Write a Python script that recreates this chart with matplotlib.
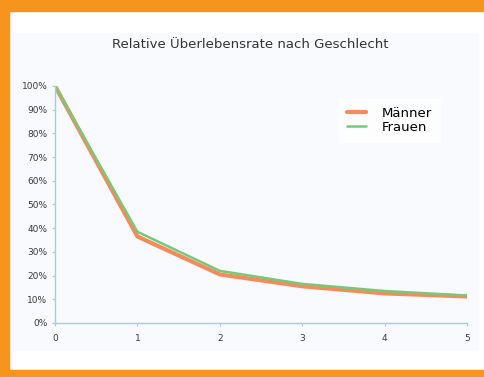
import matplotlib
matplotlib.use("Agg")
import matplotlib.pyplot as plt
from matplotlib.patches import Rectangle
from matplotlib.ticker import PercentFormatter

years = [0, 1, 2, 3, 4, 5]
maenner = [100, 36.5, 20.5, 15.5, 12.5, 11.2]
frauen = [100, 38.5, 22.0, 16.5, 13.5, 11.6]
yticks = list(range(0, 101, 10))

fig = plt.figure(figsize=(4.85, 3.77), dpi=100)
fig.patch.set_facecolor("white")

orange = "#f7941d"
# orange frame
fig.add_artist(Rectangle((0, 1 - 11/377), 1, 11/377, transform=fig.transFigure, color=orange, zorder=0))
fig.add_artist(Rectangle((0, 0), 9/485, 1, transform=fig.transFigure, color=orange, zorder=0))
fig.add_artist(Rectangle((0, 0), 1, 7/377, transform=fig.transFigure, color=orange, zorder=0))
# light panel
fig.add_artist(Rectangle((14/485, 1 - 350/377), (478-14)/485, (350-33)/377,
                         transform=fig.transFigure, color="#f8fafd", zorder=0))

ax = fig.add_axes([55/485, 1 - 323/377, (467-55)/485, (323-86)/377])
ax.set_facecolor("none")
ax.plot(years, maenner, color="#f58a5c", lw=3.0, label="Männer", solid_capstyle="round")
ax.plot(years, frauen, color="#78c87a", lw=1.8, label="Frauen", solid_capstyle="round")
ax.set_xlim(0, 5)
ax.set_ylim(0, 100)
ax.set_xticks(years)
ax.set_yticks(yticks)
ax.yaxis.set_major_formatter(PercentFormatter(decimals=0))
for s in ["top", "right"]:
    ax.spines[s].set_visible(False)
for s in ["left", "bottom"]:
    ax.spines[s].set_color("#a9cbe0")
    ax.spines[s].set_linewidth(1.0)
ax.tick_params(axis="both", colors="#a9cbe0", labelcolor="#3a3a3a", labelsize=6.5, length=2)
ax.tick_params(axis="x", pad=6)

leg = ax.legend(loc="upper left", bbox_to_anchor=(332/485, 1 - 92/377),
                bbox_transform=fig.transFigure, frameon=True, fontsize=9.5,
                handlelength=1.5, handletextpad=1.2, borderpad=0.6, labelspacing=0.1, fancybox=False)
leg.get_frame().set_edgecolor("white")
leg.get_frame().set_facecolor("white")

fig.text(250/485, 1 - 45/377, "Relative Überlebensrate nach Geschlecht", ha="center", va="center",
         fontsize=9.5, color="#333333")

fig.savefig("out.png", dpi=100)
